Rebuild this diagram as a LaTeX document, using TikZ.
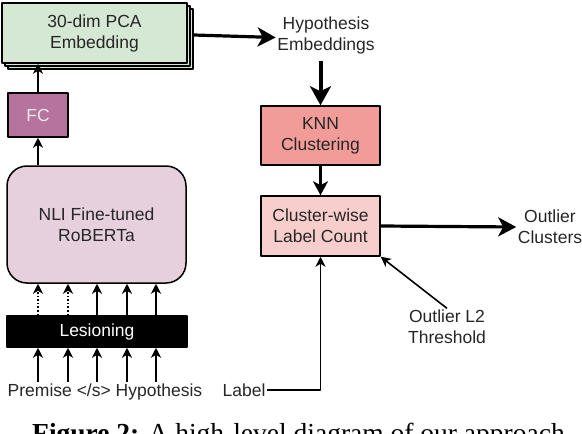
\documentclass[tikz,border=0pt]{standalone}
\usepackage{fontspec}
\setmainfont{Liberation Sans}
\newfontfamily\capfont{Liberation Serif}
\usetikzlibrary{arrows.meta,shadows}
\definecolor{pcagreen}{HTML}{D5E8D4}
\definecolor{knnred}{HTML}{F19C99}
\definecolor{cntpink}{HTML}{F8CECC}
\definecolor{fcpurple}{HTML}{B5739D}
\definecolor{robpurple}{HTML}{E6D0DE}
\begin{document}
\begin{tikzpicture}[x=1pt, y=-1pt, font=\fontsize{17.5}{21}\selectfont, line join=round, >=stealth,
	box/.style={draw, line width=1.5pt, align=center, inner sep=0pt, text=black!85},
	txt/.style={align=center, inner sep=1.5pt, text=black!85},
	thinarr/.style={line width=1.6pt, -{Stealth[length=10pt, width=10pt, inset=3pt]}},
	thickarr/.style={line width=3.2pt, -{Stealth[length=18pt, width=19pt, inset=5pt]}}]
		\useasboundingbox (0,0) rectangle (582,434);
		\node[box, fill=pcagreen, minimum width=185pt, minimum height=60pt,
			double copy shadow={shadow xshift=3pt, shadow yshift=-3pt, fill=pcagreen, draw, line width=1.5pt}]
			(pca) at (94.5,33) {30-dim PCA\\Embedding};
		\node[txt] (hyp) at (326,35.5) {Hypothesis\\Embeddings};
		\node[box, fill=knnred, minimum width=119pt, minimum height=59pt] (knn) at (320.5,135.5) {KNN\\Clustering};
		\node[box, fill=cntpink, minimum width=119pt, minimum height=60pt] (cnt) at (320.5,226) {Cluster-wise\\Label Count};
		\node[txt] (outl) at (550,227) {Outlier\\Clusters};
		\node[txt] (thr) at (447,327) {Outlier L2\\Threshold};
		\node[txt, anchor=base] (lab) at (244,396) {Label};
		\node[box, fill=fcpurple, text=white!92!black, minimum width=60pt, minimum height=44pt] (fc) at (38,115) {FC};
		\node[box, fill=robpurple, rounded corners=20pt, minimum width=179pt, minimum height=117pt] (rob) at (96.5,224.5) {NLI Fine-tuned\\RoBERTa};
		\node[box, fill=black, text=white, minimum width=180pt, minimum height=31pt] (les) at (97,331.5) {Lesioning};
		\node[txt, anchor=base] (inp) at (105,396) {Premise </s> Hypothesis};
		\node[anchor=base west, inner sep=0pt, font=\capfont\fontsize{27.5}{30}\selectfont] (cap) at (32,442)
			{\textbf{Figure 2:} A high-level diagram of our approach.};
		\draw[thickarr] ([xshift=6pt, yshift=-2pt]pca.east) -- ([yshift=-2pt]hyp.west);
		\draw[line width=4pt, -{Stealth[length=19pt, width=21pt, inset=5pt]}] ([yshift=-5pt]hyp.south -| knn.north) -- (knn.north);
		\draw[line width=2.6pt, -{Stealth[length=14pt, width=15pt, inset=4pt]}] (knn.south) -- (cnt.north);
		\draw[thickarr] (cnt.east) -- (outl.west);
		\draw[thinarr] (thr.north) -- (cnt.south east);
		\draw[thinarr] (lab.east) -| (cnt.south);
		\draw[thinarr] (fc.north) -- (fc.north |- pca.south);
		\draw[thinarr] (rob.north -| fc.south) -- (fc.south);
		\foreach \x/\pat in {38/dotted,68/dotted,97/solid,127/solid,156/solid}{
			\draw[thinarr, \pat] (les.north -| \x,0) -- (rob.south -| \x,0);
			\draw[thinarr] (inp.north -| \x,0) -- (les.south -| \x,0);
		}
\end{tikzpicture}
\end{document}
